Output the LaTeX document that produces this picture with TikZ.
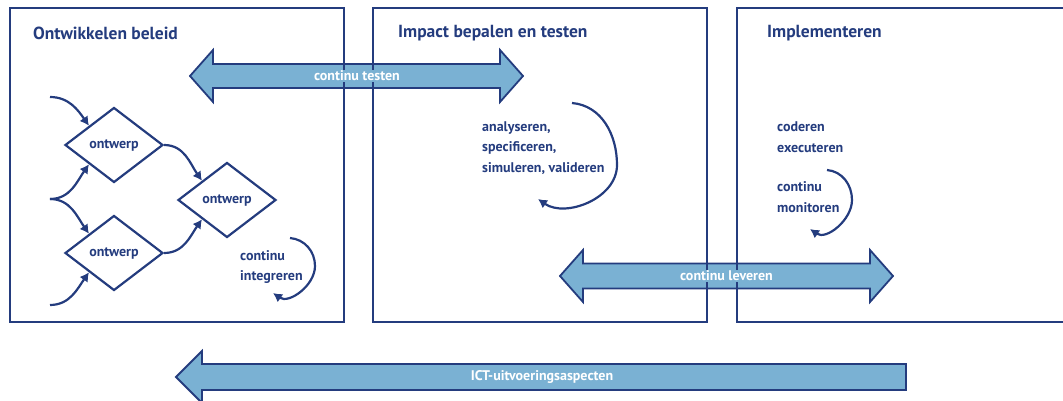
\documentclass[tikz,border=0pt]{standalone}
\usepackage{fontspec}
\setmainfont{PT Sans}
\usepackage{tikz}
\usetikzlibrary{shapes.geometric,arrows.meta}
\definecolor{donkerblauw}{RGB}{36,60,126}
\definecolor{lichtblauw}{RGB}{122,177,211}

\begin{document}
\begin{tikzpicture}[x=1pt, y=1pt, donkerblauw, >={Latex[length=9pt,width=10pt]},
  fase/.style={draw, line width=2.4pt},
  kop/.style={anchor=west, inner sep=0pt, font=\bfseries\fontsize{17.5}{20}\selectfont},
  ruit/.style={draw, diamond, aspect=1.3, minimum width=98pt, minimum height=75pt, inner sep=0pt, line width=2.2pt, font=\bfseries\fontsize{14}{16}\selectfont},
  blok/.style={draw, fill=lichtblauw, line width=1.8pt, line join=miter},
  bloktekst/.style={text=white, fill=lichtblauw, inner xsep=2pt, inner ysep=1pt, font=\bfseries\fontsize{14}{16}\selectfont},
  tekst/.style={anchor=west, align=left, inner sep=0pt, font=\bfseries\fontsize{14}{20.5}\selectfont},
  pijl/.style={->, line width=2.2pt}]
\useasboundingbox (0,0) rectangle (1063,400);
\clip (0,0) rectangle (1063,400);

\draw[blok] (190,324) -- (213,350) -- (213,336) -- (500,336) -- (500,350) -- (523,324)
  -- (500,298) -- (500,312) -- (213,312) -- (213,298) -- cycle;
\draw[blok] (560,124) -- (583,150) -- (583,136.5) -- (870,136.5) -- (870,150) -- (893,124)
  -- (870,98) -- (870,111.5) -- (583,111.5) -- (583,98) -- cycle;
\draw[blok] (176,23) -- (202,49) -- (202,36) -- (906,36) -- (906,10) -- (202,10) -- (202,-3) -- cycle;

\draw[fase] (10,78) rectangle (344,392);
\draw[fase] (373,78) rectangle (707,392);
\draw[fase] (737,78) rectangle (1080,392);
\node[kop] (beleid) at (33,367) {Ontwikkelen beleid};
\node[kop] (impact) at (398,367) {Impact bepalen en testen};
\node[kop] (implementeren) at (767,367) {Implementeren};

\node[bloktekst] (testen) at (357,324) {continu testen};
\node[bloktekst] (leveren) at (726.5,124) {continu leveren};
\node[bloktekst] (ict) at (542,23) {ICT-uitvoeringsaspecten};

\node[ruit] (d1) at (114,255) {ontwerp};
\node[ruit] (d2) at (114,147) {ontwerp};
\node[ruit] (d3) at (227,200) {ontwerp};
\coordinate (in1) at (50,303);
\coordinate (in2) at (50,201);
\coordinate (in3) at (50,95);
\draw[pijl] (in1) to[out=0, in=125] (d1.north west);
\draw[pijl] (in2) to[out=0, in=-125] (d1.south west);
\draw[pijl] (in2) to[out=0, in=125] (d2.north west);
\draw[pijl] (in3) to[out=0, in=-125] (d2.south west);
\draw[pijl] (d1.east) to[out=0, in=125] (d3.north west);
\draw[pijl] (d2.east) to[out=0, in=-125] (d3.south west);

\node[tekst] (integreren) at (240,133) {continu\\integreren};
\coordinate (ci1) at (290,162);
\coordinate (ci2) at (315,134);
\coordinate (ci3) at (273,107);
\draw[pijl] (ci1) to[out=-5, in=90] (ci2) to[out=-90, in=-35] (ci3);

\node[tekst] (analyseren) at (482,252) {analyseren,\\specificeren,\\simuleren, valideren};
\coordinate (ca1) at (572,297);
\coordinate (ca2) at (617,235);
\coordinate (ca3) at (538,201);
\draw[pijl] (ca1) to[out=-5, in=90] (ca2) to[out=-90, in=-35] (ca3);

\node[tekst] (coderen) at (777,263) {coderen\\executeren};
\node[tekst] (monitoren) at (777,203) {continu\\monitoren};
\coordinate (cm1) at (827,230);
\coordinate (cm2) at (852,200);
\coordinate (cm3) at (810,171);
\draw[pijl] (cm1) to[out=-5, in=90] (cm2) to[out=-90, in=-35] (cm3);
\end{tikzpicture}
\end{document}
